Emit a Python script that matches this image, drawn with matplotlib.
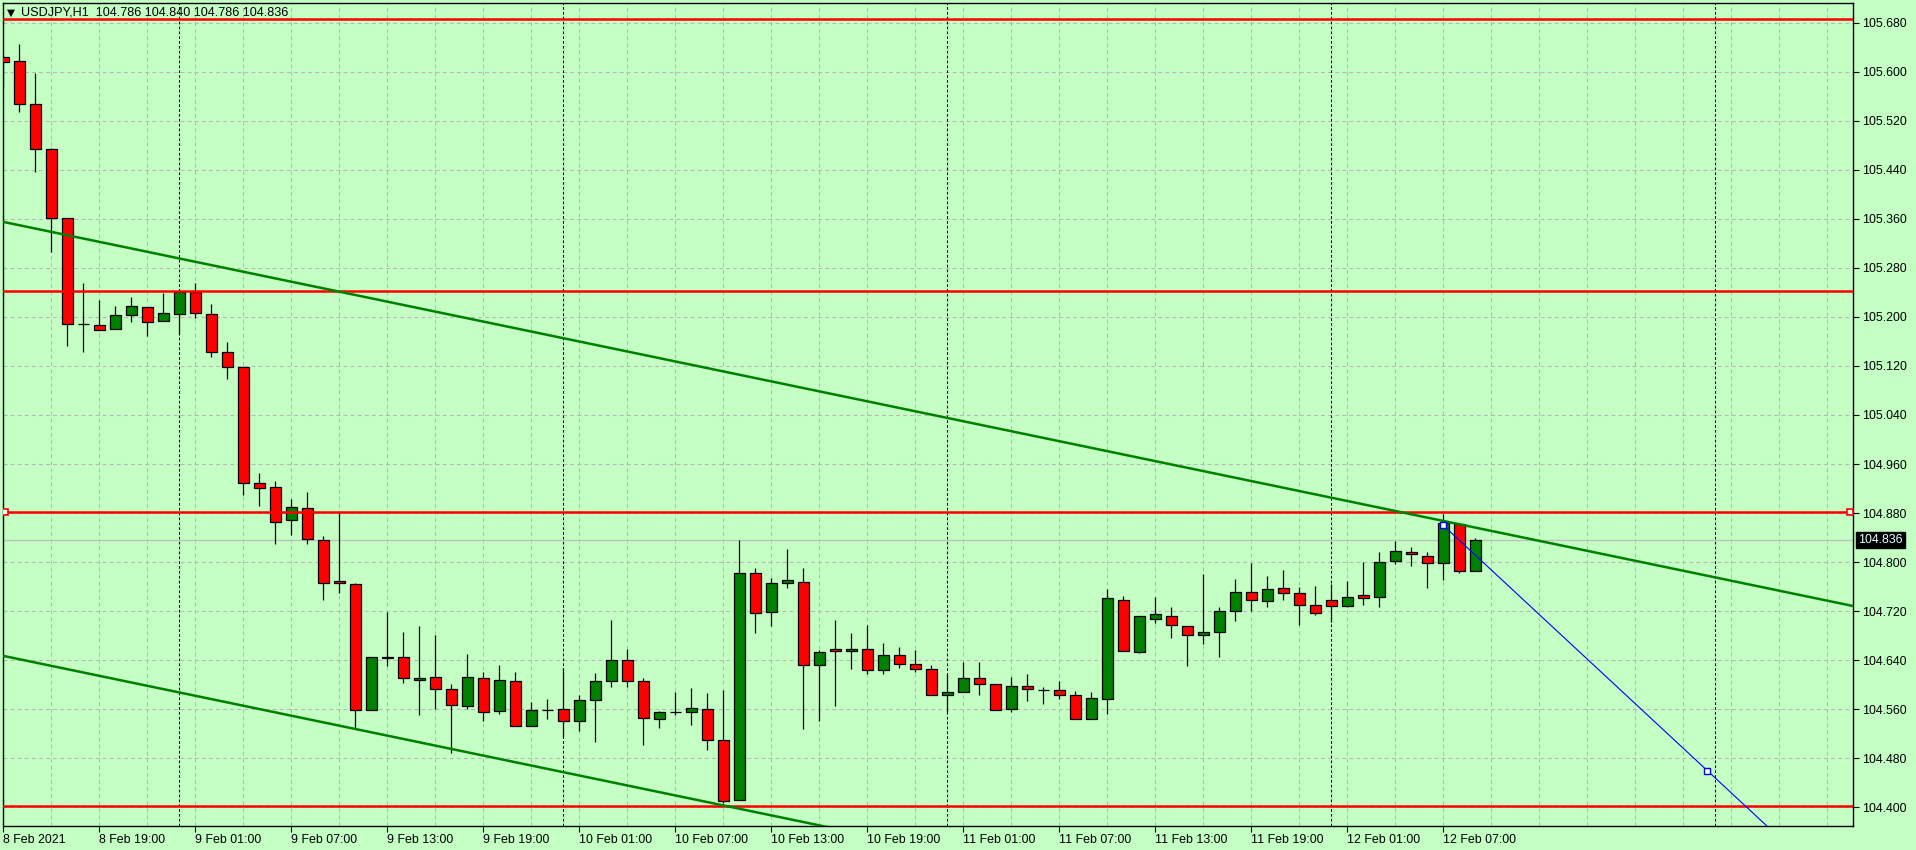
import numpy as np
import matplotlib
matplotlib.use('Agg')
import matplotlib.pyplot as plt
from matplotlib.ticker import FixedLocator, FuncFormatter

# USDJPY H1 candles (8 Feb 13:00 .. 12 Feb 09:00)
opens = [105.624, 105.617, 105.547, 105.474, 105.361, 105.189, 105.186, 105.180, 105.203, 105.216,
         105.194, 105.204, 105.240, 105.204, 105.142, 105.118, 104.929, 104.922, 104.868, 104.888,
         104.836, 104.769, 104.764, 104.558, 104.646, 104.645, 104.608, 104.613, 104.593, 104.565,
         104.611, 104.557, 104.606, 104.532, 104.558, 104.560, 104.540, 104.575, 104.606, 104.640,
         104.606, 104.544, 104.555, 104.555, 104.560, 104.509, 104.412, 104.782, 104.718, 104.766,
         104.767, 104.632, 104.658, 104.655, 104.659, 104.624, 104.648, 104.633, 104.625, 104.584,
         104.588, 104.611, 104.601, 104.560, 104.598, 104.591, 104.591, 104.584, 104.544, 104.576,
         104.739, 104.653, 104.708, 104.712, 104.695, 104.681, 104.686, 104.720, 104.752, 104.736,
         104.757, 104.749, 104.730, 104.739, 104.728, 104.746, 104.743, 104.801, 104.816, 104.810,
         104.799, 104.862, 104.786]
highs = [105.624, 105.645, 105.598, 105.475, 105.361, 105.255, 105.228, 105.218, 105.233, 105.216,
         105.239, 105.240, 105.255, 105.221, 105.159, 105.119, 104.945, 104.932, 104.903, 104.914,
         104.842, 104.881, 104.766, 104.646, 104.718, 104.686, 104.696, 104.681, 104.601, 104.650,
         104.620, 104.632, 104.620, 104.571, 104.577, 104.627, 104.583, 104.619, 104.706, 104.658,
         104.611, 104.557, 104.588, 104.595, 104.586, 104.591, 104.836, 104.790, 104.774, 104.821,
         104.790, 104.657, 104.706, 104.684, 104.697, 104.668, 104.661, 104.656, 104.632, 104.617,
         104.637, 104.637, 104.601, 104.613, 104.618, 104.596, 104.606, 104.589, 104.588, 104.756,
         104.744, 104.712, 104.743, 104.726, 104.695, 104.781, 104.726, 104.772, 104.799, 104.777,
         104.787, 104.759, 104.761, 104.764, 104.769, 104.800, 104.816, 104.834, 104.825, 104.816,
         104.878, 104.862, 104.840]
lows = [105.573, 105.535, 105.437, 105.306, 105.153, 105.143, 105.178, 105.180, 105.192, 105.169,
        105.194, 105.172, 105.198, 105.134, 105.098, 104.910, 104.892, 104.830, 104.845, 104.830,
        104.738, 104.750, 104.529, 104.558, 104.631, 104.602, 104.550, 104.560, 104.488, 104.560,
        104.541, 104.553, 104.532, 104.532, 104.544, 104.515, 104.525, 104.507, 104.596, 104.597,
        104.502, 104.530, 104.550, 104.535, 104.494, 104.407, 104.412, 104.684, 104.696, 104.757,
        104.527, 104.541, 104.566, 104.626, 104.618, 104.618, 104.627, 104.620, 104.584, 104.555,
        104.588, 104.584, 104.558, 104.555, 104.574, 104.569, 104.576, 104.544, 104.544, 104.552,
        104.655, 104.651, 104.700, 104.676, 104.631, 104.666, 104.646, 104.704, 104.721, 104.726,
        104.739, 104.698, 104.713, 104.702, 104.726, 104.730, 104.726, 104.797, 104.794, 104.757,
        104.770, 104.782, 104.786]
closes = [105.616, 105.547, 105.474, 105.361, 105.189, 105.188, 105.178, 105.203, 105.218, 105.192,
          105.206, 105.240, 105.206, 105.143, 105.119, 104.929, 104.921, 104.866, 104.890, 104.837,
          104.766, 104.766, 104.558, 104.646, 104.643, 104.611, 104.611, 104.593, 104.567, 104.613,
          104.555, 104.607, 104.532, 104.558, 104.558, 104.540, 104.575, 104.606, 104.640, 104.606,
          104.545, 104.555, 104.555, 104.562, 104.510, 104.410, 104.783, 104.717, 104.766, 104.770,
          104.632, 104.653, 104.655, 104.659, 104.624, 104.648, 104.633, 104.625, 104.584, 104.588,
          104.611, 104.601, 104.558, 104.598, 104.593, 104.591, 104.584, 104.544, 104.578, 104.741,
          104.655, 104.712, 104.715, 104.697, 104.681, 104.686, 104.720, 104.752, 104.738, 104.756,
          104.749, 104.730, 104.717, 104.728, 104.743, 104.741, 104.800, 104.818, 104.813, 104.799,
          104.863, 104.786, 104.836]

title = "USDJPY,H1  104.786 104.840 104.786 104.836"
last_price = 104.836

# horizontal support / resistance levels
levels = [105.686, 105.243, 104.882, 104.402]
selected_level = 104.882

# trend lines: (bar index, price) anchor pairs
upper_trend = [(0, 105.355), (100, 104.813)]
lower_trend = [(0, 104.647), (100, 104.105)]
blue_ray = [(90, 104.860), (106.5, 104.460)]

# time axis labels every 6 bars
time_labels = ["8 Feb 2021", "8 Feb 19:00", "9 Feb 01:00", "9 Feb 07:00", "9 Feb 13:00",
               "9 Feb 19:00", "10 Feb 01:00", "10 Feb 07:00", "10 Feb 13:00", "10 Feb 19:00",
               "11 Feb 01:00", "11 Feb 07:00", "11 Feb 13:00", "11 Feb 19:00", "12 Feb 01:00",
               "12 Feb 07:00"]
day_breaks = [11, 35, 59, 83, 107]

price_ticks = np.round(np.arange(104.400, 105.681, 0.08), 3)

bg = '#c4ffc4'
grid_col = '#bcb6bc'
up_col = '#008000'
down_col = '#ff0000'

plt.rcParams['font.family'] = ['Liberation Sans', 'DejaVu Sans']
plt.rcParams['lines.scale_dashes'] = False

fig = plt.figure(figsize=(19.16, 8.5), dpi=100, facecolor=bg)
ax = fig.add_axes([0.00141, 0.02824, 0.9656, 0.96858])
ax.set_facecolor(bg)

n = len(opens)
x = np.arange(n)
o = np.array(opens)
c = np.array(closes)

ax.set_xlim(-0.04, 115.6)
ax.set_ylim(104.3695, 105.7126)

# grid
for gx in range(0, 116, 3):
    ax.axvline(gx, color=grid_col, lw=0.75, dashes=(2.9, 2.2), zorder=0)
for gy in price_ticks:
    ax.axhline(gy, color=grid_col, lw=0.75, dashes=(2.9, 2.2), zorder=0)
for d in day_breaks:
    ax.axvline(d, color='black', lw=0.75, dashes=(2.0, 1.5), zorder=1)

# current price line
ax.axhline(last_price, color='#c0c0c0', lw=1.0, zorder=1)

# candles
ax.vlines(x, lows, highs, color='black', lw=0.9, zorder=3)
body_low = np.minimum(o, c)
body_h = np.abs(c - o)
cols = [up_col if cc >= oo else down_col for oo, cc in zip(o, c)]
ax.bar(x, body_h, bottom=body_low, width=0.66, color=cols, edgecolor='black',
       linewidth=0.9, zorder=4)

# horizontal levels
for lv in levels:
    ax.axhline(lv, color='#ff0000', lw=1.8, zorder=5)
ax.plot([0.08, 115.4], [selected_level, selected_level], ls='none', marker='s', ms=4,
        mfc='white', mec='#ff0000', mew=1.2, zorder=6)

# trend lines extended across the view
xs = np.array([-5, 130])
for (x0, y0), (x1, y1) in (upper_trend, lower_trend):
    k = (y1 - y0) / (x1 - x0)
    ax.plot(xs, y0 + k * (xs - x0), color=up_col, lw=1.8, zorder=5)

(bx0, by0), (bx1, by1) = blue_ray
kb = (by1 - by0) / (bx1 - bx0)
rx = np.array([bx0, 130])
ax.plot(rx, by0 + kb * (rx - bx0), color='#0000ff', lw=0.8, zorder=6)
ax.plot([bx0, bx1], [by0, by1], ls='none', marker='s', ms=4, mfc='white', mec='#0000ff',
        mew=1.0, zorder=7)

# axes styling
for s in ['top', 'left', 'right', 'bottom']:
    ax.spines[s].set_color('black')
    ax.spines[s].set_linewidth(1.0)

ax.yaxis.tick_right()
ax.yaxis.set_major_locator(FixedLocator(price_ticks))
ax.yaxis.set_major_formatter(FuncFormatter(lambda v, p: '%.3f' % v))
ax.tick_params(axis='y', direction='out', length=4, width=0.8, pad=3, labelsize=8.9,
               colors='black')

ax.set_xticks(np.arange(0, 6 * len(time_labels), 6))
ax.set_xticklabels(time_labels, ha='left')
ax.tick_params(axis='x', direction='out', length=4, width=0.8, pad=2, labelsize=8.9)

# last price tag
ax.annotate('%.3f' % last_price, xy=(1.0, last_price), xycoords=('axes fraction', 'data'),
            xytext=(4, 0), textcoords='offset points', va='center', ha='left',
            fontsize=8.9, color='#e0ffff',
            bbox=dict(boxstyle='square,pad=0.18', fc='black', ec='black'), zorder=10)

# header
fig.text(0.0034, 0.9855, '\u25bc', fontsize=7.5, family='DejaVu Sans', va='center', ha='left')
fig.text(0.0110, 0.9855, title, fontsize=9.1, va='center', ha='left', color='black')

fig.savefig('out.png', dpi=100, facecolor=bg)
